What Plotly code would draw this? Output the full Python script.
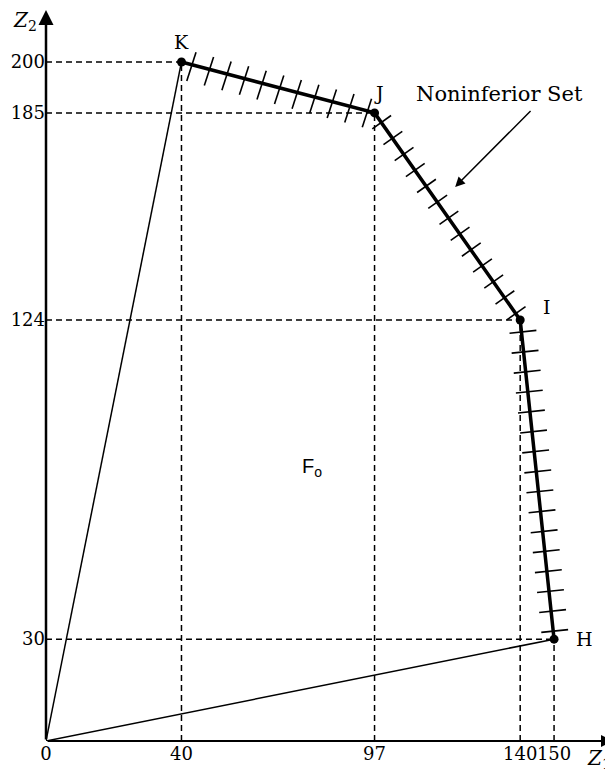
import numpy as np
import plotly.graph_objects as go

# ---- data ----
point_names = ["K", "J", "I", "H"]
z1_values = [40, 97, 140, 150]
z2_values = [200, 185, 124, 30]
x_tick_vals = [0, 40, 97, 140, 150]
x_tick_text = ["0", "40", "97", "140", "150"]
y_tick_vals = [30, 124, 185, 200]
y_tick_text = ["30", "124", "185", "200"]
region_label = "F<sub>o</sub>"
set_label = "Noninferior Set"
hatch_counts = [11, 13, 16]

PX = 3.39  # pixels per data unit (equal aspect)
SERIF = "DejaVu Serif"

fig = go.Figure()

# dashed guide lines
gx, gy = [], []
for x, y in zip(z1_values, z2_values):
    gx += [0, x, None, x, x, None]
    gy += [y, y, None, 0, y, None]
fig.add_trace(go.Scatter(x=gx, y=gy, mode="lines",
                         line=dict(color="black", width=1.5, dash="6px,4px"),
                         hoverinfo="skip", showlegend=False))

# rays from origin to K and H
rx = [0, z1_values[0], None, 0, z1_values[-1]]
ry = [0, z2_values[0], None, 0, z2_values[-1]]
fig.add_trace(go.Scatter(x=rx, y=ry, mode="lines",
                         line=dict(color="black", width=1.5),
                         hoverinfo="skip", showlegend=False))

# hatch marks along the noninferior set
hx, hy = [], []
for k in range(3):
    x0, y0 = z1_values[k], z2_values[k]
    x1, y1 = z1_values[k + 1], z2_values[k + 1]
    dx, dy = x1 - x0, y1 - y0
    if k == 0:
        ang = np.deg2rad(72); lo, hi = -17, 13
    elif k == 1:
        ang = np.arctan2(dx, -dy)  # perpendicular pointing up-right
        lo, hi = -11, 12
    else:
        ang = np.deg2rad(6); lo, hi = -12, 15
    ux, uy = np.cos(ang), np.sin(ang)
    n = hatch_counts[k]
    for i in range(n):
        t = (i + 0.6) / n
        cx, cy = x0 + t * dx, y0 + t * dy
        hx += [cx + lo / PX * ux, cx + hi / PX * ux, None]
        hy += [cy + lo / PX * uy, cy + hi / PX * uy, None]
fig.add_trace(go.Scatter(x=hx, y=hy, mode="lines",
                         line=dict(color="black", width=1.6),
                         hoverinfo="skip", showlegend=False))

# noninferior set frontier
fig.add_trace(go.Scatter(x=z1_values, y=z2_values, mode="lines+markers",
                         line=dict(color="black", width=3.5),
                         marker=dict(color="black", size=9),
                         hoverinfo="skip", showlegend=False))

ann = []
# point labels
offsets = {"K": (0, 20), "J": (4, 20), "I": (27, 13), "H": (30, 0)}
for name, x, y in zip(point_names, z1_values, z2_values):
    ox, oy = offsets[name]
    ann.append(dict(x=x, y=y, text=name, showarrow=False, xshift=ox, yshift=oy,
                    font=dict(family=SERIF, size=19, color="black")))
# region label
ann.append(dict(x=78.5, y=80.5, text=region_label, showarrow=False,
                font=dict(family="Liberation Sans", size=20, color="black")))
# noninferior set label + arrow
ann.append(dict(x=134, y=190.5, text=set_label, showarrow=False,
                font=dict(family=SERIF, size=21, color="black")))
ann.append(dict(x=120.8, y=163.2, ax=143.5, ay=186, axref="x", ayref="y",
                xref="x", yref="y", text="", showarrow=True,
                arrowhead=2, arrowsize=1.3, arrowwidth=1.5, arrowcolor="black"))
# axes with arrowheads
ann.append(dict(x=167.4, y=0, ax=0, ay=0, axref="x", ayref="y", text="",
                showarrow=True, arrowhead=2, arrowsize=1.2, arrowwidth=2,
                arrowcolor="black"))
ann.append(dict(x=0, y=215.3, ax=0, ay=0, axref="x", ayref="y", text="",
                showarrow=True, arrowhead=2, arrowsize=1.2, arrowwidth=2.5,
                arrowcolor="black"))
# axis titles
ann.append(dict(xref="paper", yref="paper", x=-0.037, y=1.0, text="<i>Z</i><sub>2</sub>",
                showarrow=False, xanchor="center", yanchor="top", yshift=4,
                font=dict(family=SERIF, size=20, color="black")))
ann.append(dict(xref="paper", yref="paper", x=1.0, y=0.0, text="<i>Z</i><sub>1</sub>",
                showarrow=False, xanchor="right", yanchor="top", xshift=0, yshift=-3,
                font=dict(family=SERIF, size=20, color="black")))

fig.update_layout(
    width=605, height=763,
    margin=dict(l=38, r=0, t=2, b=30, autoexpand=False),
    paper_bgcolor="white", plot_bgcolor="white",
    annotations=ann,
    xaxis=dict(range=[0, 167.4], showgrid=False, zeroline=False, showline=False,
               automargin=False, tickangle=0,
               tickmode="array", tickvals=x_tick_vals, ticktext=x_tick_text,
               ticks="", tickfont=dict(family=SERIF, size=18, color="black")),
    yaxis=dict(range=[0, 215.3], showgrid=False, zeroline=False, showline=False,
               automargin=False,
               tickmode="array", tickvals=y_tick_vals, ticktext=y_tick_text,
               ticks="", tickfont=dict(family=SERIF, size=18, color="black")),
)

fig.write_html("out.html")
